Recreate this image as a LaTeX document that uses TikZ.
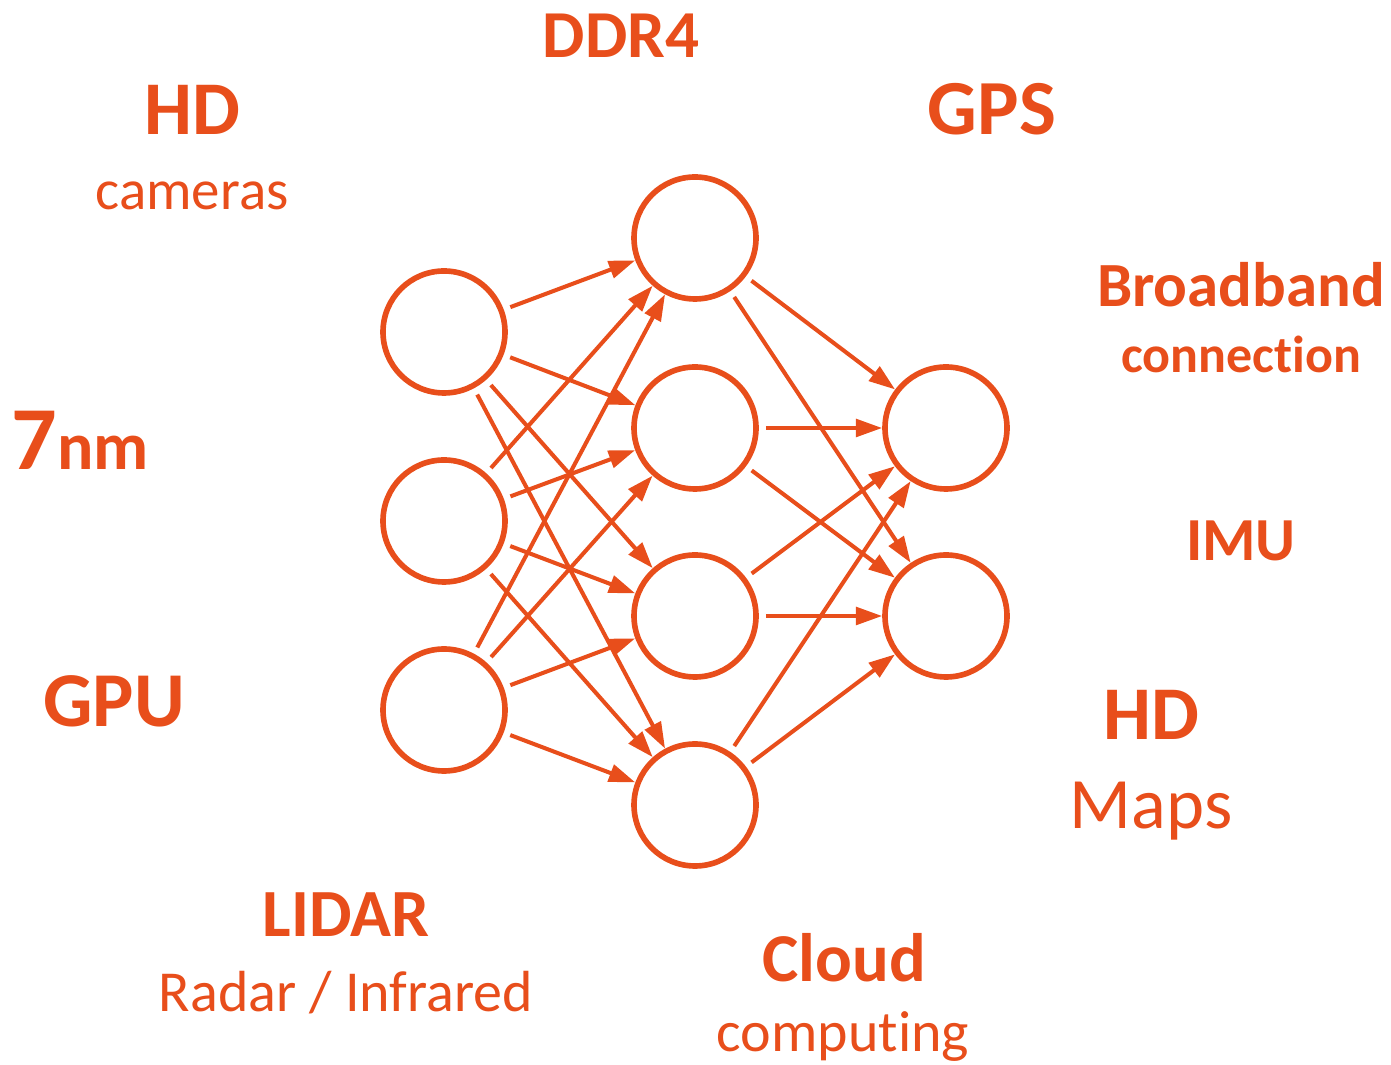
\documentclass[tikz,border=0pt]{standalone}
\usepackage{fontspec}
\setmainfont[RawFeature = {-liga;-clig;-calt}]{Carlito}
\usetikzlibrary{arrows.meta}
\definecolor{signal}{HTML}{E84E1B}

\newcommand{\fsz}[1]{\fontsize{#1}{1.2\dimexpr#1\relax}\selectfont}

\begin{document}
\begin{tikzpicture}[
  neuron/.style = {circle, draw = signal, line width = 1.6pt, minimum size = 1.22cm, inner sep = 0pt},
  link/.style   = {draw = signal, line width = 1.15pt, shorten < = 2pt, -{Triangle[length = 7.5pt, width = 5pt]}},
  word/.style   = {text = signal, anchor = base, inner sep = 0pt}
]
  \useasboundingbox (0, 0) rectangle (13.91, 10.65);

  % input, hidden and output layers
  \node[neuron] (i1) at (4.44, 7.33) {};
  \node[neuron] (i2) at (4.44, 5.44) {};
  \node[neuron] (i3) at (4.44, 3.55) {};
  \node[neuron] (h1) at (6.95, 8.27) {};
  \node[neuron] (h2) at (6.95, 6.37) {};
  \node[neuron] (h3) at (6.95, 4.49) {};
  \node[neuron] (h4) at (6.95, 2.60) {};
  \node[neuron] (o1) at (9.46, 6.37) {};
  \node[neuron] (o2) at (9.46, 4.49) {};

  \foreach \a in {i1, i2, i3}
    \foreach \b in {h1, h2, h3, h4}
      \draw[link] (\a) -- (\b);
  \foreach \a in {h1, h2, h3, h4}
    \foreach \b in {o1, o2}
      \draw[link] (\a) -- (\b);

  % labels around the network
  \node[word, font = \bfseries\fsz{19.1pt}] (ddr)   at (6.21, 10.07) {DDR4};
  \node[word, font = \bfseries\fsz{21.6pt}] (hdcam) at (1.92, 9.30)  {HD};
  \node[word, font = \fsz{16.2pt}]          (cam)   at (1.92, 8.55)  {cameras};
  \node[word, font = \bfseries\fsz{22.2pt}] (gps)   at (9.92, 9.30)  {GPS};
  \node[word, font = \bfseries\fsz{17.9pt}] (bb)    at (12.41, 7.58) {Broadband};
  \node[word, font = \bfseries\fsz{14.8pt}] (conn)  at (12.41, 6.92) {connection};
  \node[word, anchor = base west, font = \bfseries] (nm) at (0.11, 5.95)
    {{\fsz{25.6pt}7}{\fsz{19.3pt}nm}};
  \node[word, font = \bfseries\fsz{22.1pt}] (gpu)   at (1.14, 3.38)  {GPU};
  \node[word, font = \bfseries\fsz{17.4pt}] (imu)   at (12.41, 5.04) {IMU};
  \node[word, font = \bfseries\fsz{21.6pt}] (hdmap) at (11.51, 3.25) {HD};
  \node[word, font = \fsz{20.6pt}]          (maps)  at (11.51, 2.36) {Maps};
  \node[word, font = \bfseries\fsz{19.2pt}] (lidar) at (3.46, 1.28)  {LIDAR};
  \node[word, font = \fsz{16.5pt}]          (radar) at (3.46, 0.53)  {Radar / Infrared};
  \node[word, font = \bfseries\fsz{19.5pt}] (cloud) at (8.44, 0.83)  {Cloud};
  \node[word, font = \fsz{16.5pt}]          (comp)  at (8.43, 0.13)  {computing};
\end{tikzpicture}
\end{document}
